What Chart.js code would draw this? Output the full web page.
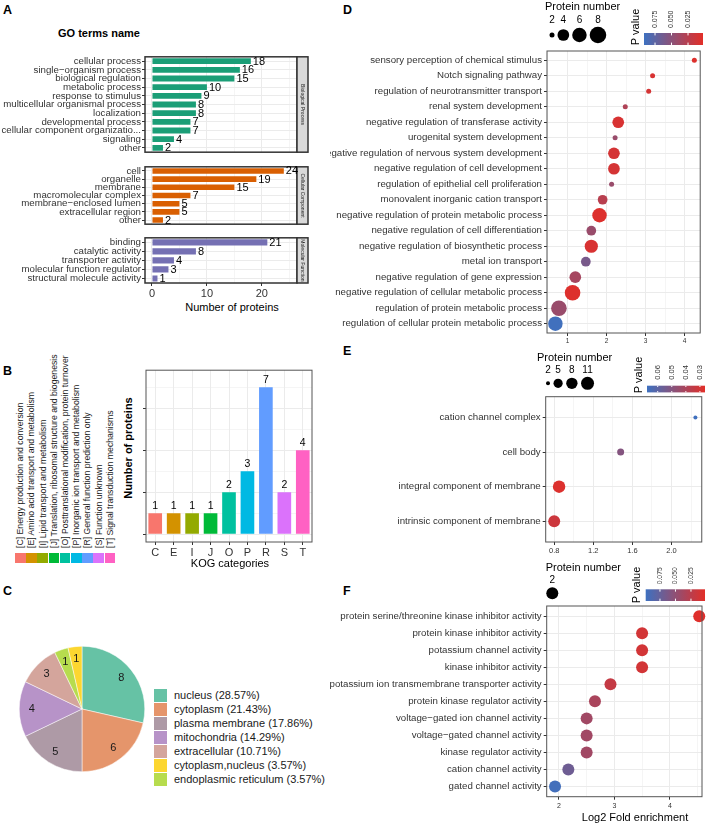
<!DOCTYPE html>
<html>
<head>
<meta charset="utf-8">
<script src="https://cdn.jsdelivr.net/npm/chart.js@4.4.1/dist/chart.umd.min.js"></script>
<style>
  body { margin: 0; background: #fff; font-family: "Liberation Sans", Arial, sans-serif; color: #000; }
  #page { position: relative; width: 708px; height: 825px; overflow: hidden; }
  canvas { position: absolute; }
  .tag { position: absolute; font-weight: bold; font-size: 12.5px; }
  .txt { position: absolute; white-space: nowrap; }
  .ctr { position: absolute; white-space: nowrap; transform: translate(-50%, -50%); }
  .vctr { position: absolute; white-space: nowrap; transform: translate(-50%, -50%) rotate(-90deg); }
  .rot { position: absolute; white-space: nowrap; transform-origin: 0 0; transform: rotate(-90deg); }
</style>
</head>
<body>
<div id="page">
  <div class="tag" style="left:3px;top:3px">A</div>
  <div class="tag" style="left:3px;top:364px">B</div>
  <div class="tag" style="left:3px;top:584px">C</div>
  <div class="tag" style="left:343px;top:3px">D</div>
  <div class="tag" style="left:343px;top:344px">E</div>
  <div class="tag" style="left:343px;top:584px">F</div>

  <div class="txt" style="left:58px;top:27px;font-weight:bold;font-size:11px">GO terms name</div>
  <canvas id="goBP" width="309" height="109" style="left:0;top:50px"></canvas>
  <canvas id="goCC" width="309" height="71" style="left:0;top:160px"></canvas>
  <canvas id="goMF" width="309" height="70" style="left:0;top:231px"></canvas>
  <div class="ctr" style="left:232px;top:307px;font-size:11px">Number of proteins</div>

  <div id="kogLegend"></div>
  <div class="vctr" style="left:128px;top:448px;font-weight:bold;font-size:11px">Number of proteins</div>
  <canvas id="kogChart" width="200" height="200" style="left:118px;top:360px"></canvas>
  <div class="ctr" style="left:230px;top:563px;font-size:11px">KOG categories</div>

  <canvas id="locPie" width="140" height="140" style="left:12px;top:639px"></canvas>
  <div id="locLegend"></div>

  <canvas id="bpEnrich" width="378" height="345" style="left:330px;top:0"></canvas>
  <canvas id="ccEnrich" width="378" height="215" style="left:330px;top:345px"></canvas>
  <canvas id="mfEnrich" width="378" height="265" style="left:330px;top:560px"></canvas>
  <div class="ctr" style="left:635px;top:817px;font-size:11px">Log2 Fold enrichment</div>
</div>

<script>
// ---- A: GO classification ----
const bpTerms = ['cellular process', 'single−organism process', 'biological regulation', 'metabolic process',
  'response to stimulus', 'multicellular organismal process', 'localization', 'developmental process',
  'cellular component organizatio...', 'signaling', 'other'];
const bpCounts = [18, 16, 15, 10, 9, 8, 8, 7, 7, 4, 2];
const ccTerms = ['cell', 'organelle', 'membrane', 'macromolecular complex', 'membrane−enclosed lumen',
  'extracellular region', 'other'];
const ccCounts = [24, 19, 15, 7, 5, 5, 2];
const mfTerms = ['binding', 'catalytic activity', 'transporter activity', 'molecular function regulator',
  'structural molecule activity'];
const mfCounts = [21, 8, 4, 3, 1];
const goGrid = [0, 5, 10, 15, 20, 25];
const goTicks = [0, 10, 20];

// ---- B: KOG ----
const kogCodes = ['C', 'E', 'I', 'J', 'O', 'P', 'R', 'S', 'T'];
const kogNames = ['Energy production and conversion', 'Amino acid transport and metabolism',
  'Lipid transport and metabolism', 'Translation, ribosomal structure and biogenesis',
  'Posttranslational modification, protein turnover', 'Inorganic ion transport and metabolism',
  'General function prediction only', 'Function unknown', 'Signal transduction mechanisms'];
const kogCounts = [1, 1, 1, 1, 2, 3, 7, 2, 4];
const kogGrid = [0, 1, 2, 3, 4, 5, 6, 7];

// ---- C: subcellular location (clockwise order) ----
const locLabels = ['nucleus', 'cytoplasm', 'plasma membrane', 'mitochondria', 'extracellular',
  'endoplasmic reticulum', 'cytoplasm,nucleus'];
const locCounts = [8, 6, 5, 4, 3, 1, 1];
const locLegendOrder = ['nucleus', 'cytoplasm', 'plasma membrane', 'mitochondria', 'extracellular',
  'cytoplasm,nucleus', 'endoplasmic reticulum'];

// ---- D: BP enrichment ----
const bpEnTerms = ['sensory perception of chemical stimulus', 'Notch signaling pathway',
  'regulation of neurotransmitter transport', 'renal system development',
  'negative regulation of transferase activity', 'urogenital system development',
  'negative regulation of nervous system development', 'negative regulation of cell development',
  'regulation of epithelial cell proliferation', 'monovalent inorganic cation transport',
  'negative regulation of protein metabolic process', 'negative regulation of cell differentiation',
  'negative regulation of biosynthetic process', 'metal ion transport',
  'negative regulation of gene expression', 'negative regulation of cellular metabolic process',
  'regulation of protein metabolic process', 'regulation of cellular protein metabolic process'];
const bpEnFold = [4.25, 3.18, 3.08, 2.48, 2.30, 2.22, 2.19, 2.19, 2.13, 1.90, 1.82, 1.61, 1.61, 1.47, 1.20, 1.13, 0.78, 0.69];
const bpEnNumber = [2, 2, 2, 2, 4, 2, 4, 4, 2, 3, 6, 3, 5, 3, 4, 7, 7, 6];
const bpEnP = [0.005, 0.008, 0.01, 0.03, 0.008, 0.042, 0.01, 0.01, 0.042, 0.025, 0.005, 0.042, 0.008, 0.06, 0.035, 0.005, 0.042, 0.09];

// ---- E: CC enrichment ----
const ccEnTerms = ['cation channel complex', 'cell body', 'integral component of membrane', 'intrinsic component of membrane'];
const ccEnFold = [2.245, 1.48, 0.85, 0.80];
const ccEnNumber = [2, 3, 10, 9];
const ccEnP = [0.067, 0.05, 0.028, 0.032];

// ---- F: MF enrichment ----
const mfEnTerms = ['protein serine/threonine kinase inhibitor activity', 'protein kinase inhibitor activity',
  'potassium channel activity', 'kinase inhibitor activity', 'potassium ion transmembrane transporter activity',
  'protein kinase regulator activity', 'voltage−gated ion channel activity', 'voltage−gated channel activity',
  'kinase regulator activity', 'cation channel activity', 'gated channel activity'];
const mfEnFold = [4.53, 3.5, 3.5, 3.5, 2.93, 2.65, 2.5, 2.5, 2.5, 2.17, 1.93];
const mfEnNumber = [2, 2, 2, 2, 2, 2, 2, 2, 2, 2, 2];
const mfEnP = [0.004, 0.012, 0.012, 0.012, 0.02, 0.035, 0.04, 0.04, 0.04, 0.07, 0.095];

// colours
const goColors = ['#1B9E77', '#D95F02', '#7570B3'];
const kogColors = ['#F8766D', '#D39200', '#93AA00', '#00BA38', '#00C19F', '#00B9E3', '#619CFF', '#DB72FB', '#FF61C3'];
const locColors = {
  'nucleus': '#66C2A5', 'cytoplasm': '#E5956B', 'plasma membrane': '#AE9AA6', 'mitochondria': '#B793C8',
  'extracellular': '#D4A59C', 'endoplasmic reticulum': '#B7DC4E', 'cytoplasm,nucleus': '#FCD630'
};
const FONT = '"Liberation Sans", Arial, sans-serif';
const GRID = '#ebebeb';

function pColor(p, lo, hi) {
  const red = [226, 46, 40], blue = [62, 113, 192];
  let t = (p - lo) / (hi - lo);
  t = Math.max(0, Math.min(1, t));
  const c = red.map((v, k) => Math.round(v + (blue[k] - v) * t));
  return `rgb(${c[0]},${c[1]},${c[2]})`;
}

function sizeScale(n, nMin, nMax, rMin, rMax) {
  if (nMax === nMin) return (rMin + rMax) / 2;
  return rMin + (rMax - rMin) * Math.sqrt((n - nMin) / (nMax - nMin));
}

// frame around the panel (+ optional facet strip)
const frame = {
  id: 'frame',
  afterDraw(chart, args, opts) {
    const a = chart.chartArea, ctx = chart.ctx;
    ctx.save();
    ctx.lineWidth = opts.width;
    ctx.strokeStyle = opts.color;
    ctx.strokeRect(a.left, a.top, a.right - a.left, a.bottom - a.top);
    if (opts.strip) {
      ctx.fillStyle = '#d9d9d9';
      ctx.fillRect(a.right, a.top, opts.stripW, a.bottom - a.top);
      ctx.strokeRect(a.right, a.top, opts.stripW, a.bottom - a.top);
      ctx.translate(a.right + opts.stripW / 2, (a.top + a.bottom) / 2);
      ctx.rotate(Math.PI / 2);
      ctx.fillStyle = '#1a1a1a';
      ctx.font = '5px ' + FONT;
      ctx.textAlign = 'center';
      ctx.textBaseline = 'middle';
      ctx.fillText(opts.strip, 0, 0);
    }
    ctx.restore();
  }
};

const barValueLabels = {
  id: 'barValueLabels',
  afterDraw(chart, args, opts) {
    const ctx = chart.ctx;
    const meta = chart.getDatasetMeta(0);
    const data = chart.data.datasets[0].data;
    ctx.save();
    ctx.font = opts.size + 'px ' + FONT;
    ctx.fillStyle = '#000';
    meta.data.forEach((bar, i) => {
      if (chart.options.indexAxis === 'y') {
        ctx.textAlign = 'left';
        ctx.textBaseline = 'middle';
        ctx.fillText(data[i], bar.x + 2, bar.y + 0.5);
      } else {
        ctx.textAlign = 'center';
        ctx.textBaseline = 'bottom';
        ctx.fillText(data[i], bar.x, bar.y - 2);
      }
    });
    ctx.restore();
  }
};

function goChart(id, terms, counts, color, strip, showAxis) {
  return new Chart(document.getElementById(id), {
    type: 'bar',
    data: {
      labels: terms,
      datasets: [{ data: counts, backgroundColor: color, barPercentage: 0.68, categoryPercentage: 1 }]
    },
    options: {
      indexAxis: 'y',
      responsive: false,
      animation: false,
      layout: { padding: { top: 1, right: 12, bottom: showAxis ? 0 : 1 } },
      plugins: {
        legend: { display: false },
        tooltip: { enabled: false },
        frame: { color: '#333', width: 1.5, strip: strip, stripW: 11 },
        barValueLabels: { size: 11 }
      },
      scales: {
        x: {
          type: 'linear', min: -1.27, max: 26.4,
          afterBuildTicks: s => { s.ticks = goGrid.map(v => ({ value: v })); },
          ticks: {
            display: showAxis, autoSkip: false, maxRotation: 0, padding: 1,
            color: '#333', font: { size: 11, family: FONT },
            callback: v => goTicks.includes(v) ? String(v) : ''
          },
          grid: {
            color: GRID,
            lineWidth: c => (c.tick && goTicks.includes(c.tick.value)) ? 1 : 0.5,
            drawTicks: showAxis, tickLength: 3,
            tickColor: c => (c.tick && goTicks.includes(c.tick.value)) ? '#333' : 'rgba(0,0,0,0)'
          },
          border: { display: false },
          afterFit: s => { s.height = showAxis ? 18 : 0; }
        },
        y: {
          ticks: { autoSkip: false, padding: 1, color: '#333', font: { size: 9.7, family: FONT } },
          grid: { color: GRID, offset: false, tickLength: 3, tickColor: '#333' },
          border: { display: false },
          afterFit: s => { s.width = 145; }
        }
      }
    },
    plugins: [frame, barValueLabels]
  });
}

goChart('goBP', bpTerms, bpCounts, goColors[0], 'Biological Process', false);
goChart('goCC', ccTerms, ccCounts, goColors[1], 'Cellular Component', false);
goChart('goMF', mfTerms, mfCounts, goColors[2], 'Molecular Function', true);

// ---- B ----
const kogLegend = document.getElementById('kogLegend');
kogCodes.forEach((code, i) => {
  const xc = 20.6 + i * 11.2;
  const t = document.createElement('div');
  t.className = 'rot';
  t.style.cssText = `left:${xc - 5.5}px;top:548px;font-size:8.7px;line-height:11px;height:11px;color:#1a1a1a`;
  t.textContent = `[${code}] ${kogNames[i]}`;
  kogLegend.appendChild(t);
  const sw = document.createElement('div');
  sw.style.cssText = `position:absolute;left:${15 + i * 11.2}px;top:553px;width:10.6px;height:10px;background:${kogColors[i]}`;
  kogLegend.appendChild(sw);
});

new Chart(document.getElementById('kogChart'), {
  type: 'bar',
  data: {
    labels: kogCodes,
    datasets: [{ data: kogCounts, backgroundColor: kogColors, barPercentage: 0.74, categoryPercentage: 1 }]
  },
  options: {
    responsive: false,
    animation: false,
    layout: { padding: { top: 6, right: 6 } },
    plugins: {
      legend: { display: false },
      tooltip: { enabled: false },
      frame: { color: '#555', width: 1 },
      barValueLabels: { size: 10.5 }
    },
    scales: {
      x: {
        ticks: { padding: 1, color: '#333', font: { size: 11, family: FONT } },
        grid: { color: GRID, offset: false, tickLength: 3, tickColor: '#333' },
        border: { display: false },
        afterFit: s => { s.height = 18; }
      },
      y: {
        type: 'linear', min: -0.37, max: 7.81,
        afterBuildTicks: s => { s.ticks = kogGrid.map(v => ({ value: v })); },
        ticks: { callback: () => '' },
        grid: {
          color: GRID,
          lineWidth: c => (c.tick && c.tick.value % 2 === 0) ? 1 : 0.5,
          tickLength: 3,
          tickColor: c => (c.tick && c.tick.value % 2 === 0) ? '#333' : 'rgba(0,0,0,0)'
        },
        border: { display: false },
        afterFit: s => { s.width = 28; }
      }
    }
  },
  plugins: [frame, barValueLabels]
});

// ---- C ----
const sliceLabels = {
  id: 'sliceLabels',
  afterDatasetsDraw(chart) {
    const ctx = chart.ctx;
    const meta = chart.getDatasetMeta(0);
    const data = chart.data.datasets[0].data;
    ctx.save();
    ctx.font = '11px ' + FONT;
    ctx.fillStyle = '#1a1a1a';
    ctx.textAlign = 'center';
    ctx.textBaseline = 'middle';
    meta.data.forEach((arc, i) => {
      const p = arc.getProps(['x', 'y', 'startAngle', 'endAngle', 'outerRadius'], true);
      const a = (p.startAngle + p.endAngle) / 2;
      ctx.fillText(data[i], p.x + Math.cos(a) * p.outerRadius * 0.8, p.y + Math.sin(a) * p.outerRadius * 0.8);
    });
    ctx.restore();
  }
};

new Chart(document.getElementById('locPie'), {
  type: 'pie',
  data: {
    labels: locLabels,
    datasets: [{ data: locCounts, backgroundColor: locLabels.map(l => locColors[l]), borderColor: '#fff', borderWidth: 0.5 }]
  },
  options: {
    responsive: false,
    animation: false,
    layout: { padding: 7 },
    plugins: { legend: { display: false }, tooltip: { enabled: false } }
  },
  plugins: [sliceLabels]
});

const locTotal = locCounts.reduce((s, v) => s + v, 0);
const locLegend = document.getElementById('locLegend');
locLegendOrder.forEach((name, i) => {
  const n = locCounts[locLabels.indexOf(name)];
  const yc = 695 + i * 14;
  const sw = document.createElement('div');
  sw.style.cssText = `position:absolute;left:154px;top:${yc - 6.5}px;width:13px;height:13px;background:${locColors[name]}`;
  locLegend.appendChild(sw);
  const t = document.createElement('div');
  t.className = 'txt';
  t.style.cssText = `left:174px;top:${yc - 7}px;font-size:11px;line-height:14px;color:#1a1a1a`;
  t.textContent = `${name} (${(n / locTotal * 100).toFixed(2)}%)`;
  locLegend.appendChild(t);
});

// ---- D/E/F enrichment bubbles ----
const bubbleLegend = {
  id: 'bubbleLegend',
  afterDraw(chart, args, o) {
    const ctx = chart.ctx;
    ctx.save();
    ctx.translate(-o.ox, -o.oy);
    ctx.fillStyle = '#000';
    ctx.textBaseline = 'middle';
    ctx.textAlign = 'left';
    ctx.font = '11px ' + FONT;
    ctx.fillText('Protein number', o.titleX, o.titleY);
    ctx.font = '10px ' + FONT;
    ctx.textAlign = 'center';
    let x = o.keyX;
    o.sizeBreaks.forEach((n, i) => {
      const r = o.radius(n);
      if (i > 0) x += o.radius(o.sizeBreaks[i - 1]) + r + o.keyGap;
      ctx.beginPath();
      ctx.arc(x, o.keyY, r, 0, 2 * Math.PI);
      ctx.fill();
      ctx.fillText(String(n), x, o.labelY);
    });
    // P value title
    ctx.save();
    ctx.translate(o.pTitleX, o.pTitleY);
    ctx.rotate(-Math.PI / 2);
    ctx.font = '11px ' + FONT;
    ctx.fillText('P value', 0, 0);
    ctx.restore();
    // colour bar (high p on the left)
    const g = ctx.createLinearGradient(o.barX, 0, o.barX + o.barW, 0);
    for (let k = 0; k <= 10; k++) {
      const t = k / 10;
      g.addColorStop(t, pColor(o.pMax - t * (o.pMax - o.pMin), o.pMin, o.pMax));
    }
    ctx.fillStyle = g;
    ctx.fillRect(o.barX, o.barY, o.barW, o.barH);
    o.pBreaks.forEach(p => {
      const tx = o.barX + (o.pMax - p) / (o.pMax - o.pMin) * o.barW;
      ctx.strokeStyle = '#fff';
      ctx.lineWidth = 1;
      ctx.beginPath();
      ctx.moveTo(tx, o.barY); ctx.lineTo(tx, o.barY + o.barH * 0.2);
      ctx.moveTo(tx, o.barY + o.barH); ctx.lineTo(tx, o.barY + o.barH * 0.8);
      ctx.stroke();
      ctx.save();
      ctx.translate(tx, o.barY - o.pGap);
      ctx.rotate(-Math.PI / 2);
      ctx.textAlign = 'left';
      ctx.fillStyle = '#333';
      ctx.font = o.pFont + 'px ' + FONT;
      ctx.fillText(p.toFixed(o.pDigits), 0, 0);
      ctx.restore();
    });
    ctx.restore();
  }
};

function enrichChart(id, terms, fold, counts, pvals, cfg) {
  const radius = n => sizeScale(n, cfg.nMin, cfg.nMax, cfg.rMin, cfg.rMax);
  const isMajor = c => c.tick && cfg.xTicks.includes(c.tick.value);
  return new Chart(document.getElementById(id), {
    type: 'bubble',
    data: {
      datasets: [{
        data: terms.map((t, i) => ({ x: fold[i], y: i, r: radius(counts[i]) })),
        backgroundColor: pvals.map(p => pColor(p, cfg.pMin, cfg.pMax)),
        borderWidth: 0,
        clip: false
      }]
    },
    options: {
      responsive: false,
      animation: false,
      layout: { padding: cfg.padding },
      plugins: {
        legend: { display: false },
        tooltip: { enabled: false },
        frame: { color: '#555', width: 1 },
        bubbleLegend: Object.assign({ radius: radius }, cfg.legend)
      },
      scales: {
        x: {
          type: 'linear', min: cfg.xMin, max: cfg.xMax,
          afterBuildTicks: s => { s.ticks = cfg.xGrid.map(v => ({ value: v })); },
          ticks: {
            autoSkip: false, maxRotation: 0, padding: cfg.xPad, color: '#333',
            font: { size: cfg.xFont, family: FONT },
            callback: v => cfg.xTicks.includes(v) ? cfg.fmt(v) : ''
          },
          grid: {
            color: GRID,
            lineWidth: c => isMajor(c) ? 1 : 0.5,
            tickLength: 3,
            tickColor: c => isMajor(c) ? '#333' : 'rgba(0,0,0,0)'
          },
          border: { display: false },
          afterFit: s => { s.height = cfg.xAxisH; }
        },
        y: {
          type: 'linear', reverse: true, min: -0.6, max: terms.length - 0.4,
          afterBuildTicks: s => { s.ticks = terms.map((t, i) => ({ value: i })); },
          ticks: { autoSkip: false, padding: 2, color: '#333', font: { size: 9.7, family: FONT }, callback: v => terms[v] },
          grid: { color: GRID, tickLength: 3, tickColor: '#333' },
          border: { display: false },
          afterFit: s => { s.width = cfg.yAxisW; }
        }
      }
    },
    plugins: [frame, bubbleLegend]
  });
}

enrichChart('bpEnrich', bpEnTerms, bpEnFold, bpEnNumber, bpEnP, {
  nMin: 2, nMax: 8, rMin: 2.5, rMax: 8.3, pMin: 0.0023, pMax: 0.0917,
  padding: { top: 51, right: 4, left: 0, bottom: 0 }, yAxisW: 217, xAxisH: 12,
  xMin: 0.475, xMax: 4.4, xGrid: [0.5, 1, 1.5, 2, 2.5, 3, 3.5, 4], xTicks: [1, 2, 3, 4],
  fmt: v => String(v), xFont: 6.5, xPad: 1,
  legend: {
    ox: 330, oy: 0, titleX: 545, titleY: 7, labelY: 20, keyY: 35, keyX: 552, keyGap: 3,
    sizeBreaks: [2, 4, 6, 8], pTitleX: 636, pTitleY: 27, barX: 644, barW: 59, barY: 33, barH: 12,
    pMin: 0.0023, pMax: 0.0917, pBreaks: [0.075, 0.05, 0.025], pDigits: 3, pFont: 7, pGap: 5
  }
});

enrichChart('ccEnrich', ccEnTerms, ccEnFold, ccEnNumber, ccEnP, {
  nMin: 2, nMax: 11, rMin: 2, rMax: 6.5, pMin: 0.0264, pMax: 0.0676,
  padding: { top: 51.7, right: 4, left: 0, bottom: 0 }, yAxisW: 215.7, xAxisH: 18,
  xMin: 0.713, xMax: 2.31, xGrid: [0.8, 1, 1.2, 1.4, 1.6, 1.8, 2, 2.2], xTicks: [0.8, 1.2, 1.6, 2],
  fmt: v => v.toFixed(1), xFont: 7.5, xPad: 1,
  legend: {
    ox: 330, oy: 345, titleX: 537, titleY: 357.7, labelY: 370, keyY: 383.3, keyX: 548, keyGap: 3.5,
    sizeBreaks: [2, 5, 8, 11], pTitleX: 639, pTitleY: 375, barX: 647, barW: 58, barY: 385.7, barH: 6.7,
    pMin: 0.0264, pMax: 0.0676, pBreaks: [0.06, 0.05, 0.04, 0.03], pDigits: 2, pFont: 7.5, pGap: 6
  }
});

enrichChart('mfEnrich', mfEnTerms, mfEnFold, mfEnNumber, mfEnP, {
  nMin: 2, nMax: 2, rMin: 6, rMax: 6, pMin: 0.0024, pMax: 0.098,
  padding: { top: 46, right: 5, left: 0, bottom: 0 }, yAxisW: 216.7, xAxisH: 28.3,
  xMin: 1.78, xMax: 4.58, xGrid: [2, 2.5, 3, 3.5, 4, 4.5], xTicks: [2, 3, 4],
  fmt: v => String(v), xFont: 7, xPad: 2,
  legend: {
    ox: 330, oy: 560, titleX: 545.7, titleY: 568.3, labelY: 580, keyY: 593.3, keyX: 552.3, keyGap: 3,
    sizeBreaks: [2], pTitleX: 636.7, pTitleY: 585, barX: 645.7, barW: 59.3, barY: 589.3, barH: 11.7,
    pMin: 0.0024, pMax: 0.098, pBreaks: [0.075, 0.05, 0.025], pDigits: 3, pFont: 6.8, pGap: 5
  }
});
</script>
</body>
</html>
